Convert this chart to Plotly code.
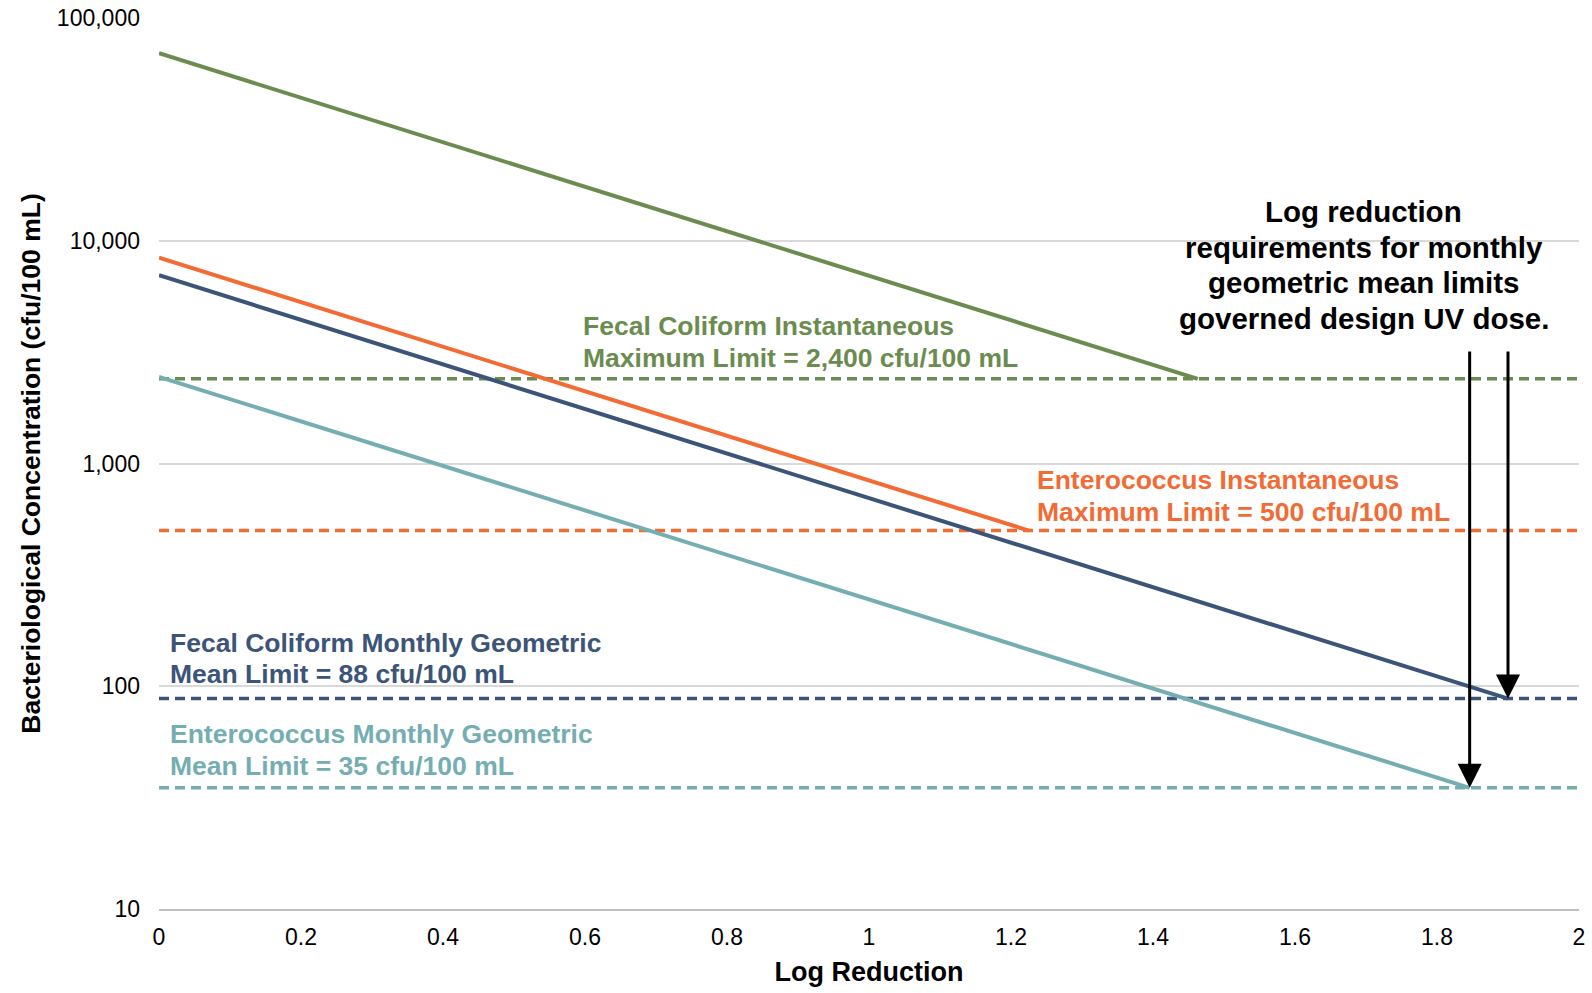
import plotly.graph_objects as go
import math

# ---- data ----
series_names = ["Fecal Coliform Instantaneous", "Enterococcus Instantaneous",
                "Fecal Coliform Monthly Geometric", "Enterococcus Monthly Geometric"]
start_conc = [69500, 8400, 7000, 2450]          # cfu/100 mL at zero log reduction
end_log_reduction = [1.463, 1.225, 1.90, 1.846]  # log reduction where limit is met
limits = [2400, 500, 88, 35]                    # limit values, cfu/100 mL
colors = ["#6B8C4F", "#F26B35", "#3B5478", "#74AEB2"]
label_line1 = ["Fecal Coliform Instantaneous", "Enterococcus Instantaneous",
               "Fecal Coliform Monthly Geometric", "Enterococcus Monthly Geometric"]
label_line2 = ["Maximum Limit = 2,400 cfu/100 mL", "Maximum Limit = 500 cfu/100 mL",
               "Mean Limit = 88 cfu/100 mL", "Mean Limit = 35 cfu/100 mL"]

x_range = [0, 2]
x_ticks = [0, 0.2, 0.4, 0.6, 0.8, 1, 1.2, 1.4, 1.6, 1.8, 2]
x_ticktext = ["0", "0.2", "0.4", "0.6", "0.8", "1", "1.2", "1.4", "1.6", "1.8", "2"]
y_ticks = [10, 100, 1000, 10000, 100000]
y_ticktext = ["10", "100", "1,000", "10,000", "100,000"]

note_lines = ["Log reduction", "requirements for monthly",
              "geometric mean limits", "governed design UV dose."]
arrow_targets = [2, 3]  # indices of monthly geometric mean series

# ---- positions (layout only) ----
label_x = [0.594, 1.234, 0.012, 0.012]
label_logy1 = [3.6177, 2.9259, 2.1936, 1.7848]
label_logy2 = [3.4740, 2.7821, 2.0543, 1.6411]
note_x = 1.697
note_logy = [4.1294, 3.9677, 3.8105, 3.6532]
arrow_top_logy = 3.51

FONT = "Liberation Sans, Arial, sans-serif"

fig = go.Figure()

# dashed limit lines
for i in range(4):
    fig.add_trace(go.Scatter(
        x=x_range, y=[limits[i], limits[i]], mode="lines",
        line=dict(color=colors[i], width=3.5, dash="10px,6px"),
        showlegend=False, hoverinfo="skip"))

# reduction lines
for i in range(4):
    fig.add_trace(go.Scatter(
        x=[0, end_log_reduction[i]], y=[start_conc[i], limits[i]], mode="lines",
        line=dict(color=colors[i], width=4),
        name=series_names[i], showlegend=False))

annotations = []
for i in range(4):
    for txt, ly in ((label_line1[i], label_logy1[i]), (label_line2[i], label_logy2[i])):
        annotations.append(dict(
            x=label_x[i], y=ly, xref="x", yref="y",
            text="<b>" + txt + "</b>", showarrow=False,
            xanchor="left", yanchor="middle", align="left",
            font=dict(family=FONT, size=26.5, color=colors[i])))

for txt, ly in zip(note_lines, note_logy):
    annotations.append(dict(
        x=note_x, y=ly, xref="x", yref="y",
        text="<b>" + txt + "</b>", showarrow=False,
        xanchor="center", yanchor="middle", align="center",
        font=dict(family=FONT, size=29.5, color="#000000")))

for idx in arrow_targets:
    annotations.append(dict(
        x=end_log_reduction[idx], y=math.log10(limits[idx]), xref="x", yref="y",
        ax=end_log_reduction[idx], ay=arrow_top_logy, axref="x", ayref="y",
        text="", showarrow=True, arrowhead=2, arrowsize=1.6, arrowwidth=3,
        arrowcolor="#000000", standoff=0))

fig.update_layout(
    width=1592, height=993,
    margin=dict(l=159, r=13, t=18, b=84),
    paper_bgcolor="white", plot_bgcolor="white",
    font=dict(family=FONT, color="#000000"),
    annotations=annotations,
    xaxis=dict(
        range=x_range, tickvals=x_ticks, ticktext=x_ticktext,
        showgrid=False, zeroline=False, automargin=False,
        showline=True, linecolor="#BFBFBF", linewidth=2,
        ticks="", ticklabelstandoff=6,
        tickfont=dict(family=FONT, size=23, color="#000000"),
        title=dict(text="<b>Log Reduction</b>", standoff=14,
                   font=dict(family=FONT, size=27, color="#000000"))),
    yaxis=dict(
        type="log", range=[1, 5], tickvals=y_ticks, ticktext=y_ticktext,
        showgrid=True, gridcolor="#D9D9D9", gridwidth=1.5, zeroline=False,
        automargin=False,
        showline=False, ticks="", ticklabelstandoff=18,
        tickfont=dict(family=FONT, size=23, color="#000000"),
        title=dict(text="<b>Bacteriological Concentration (cfu/100 mL)</b>", standoff=8,
                   font=dict(family=FONT, size=26.5, color="#000000"))),
)

fig.write_html("out.html",
               config={"displayModeBar": False},
               post_script="document.body.style.margin='0';document.body.style.overflow='hidden';")
